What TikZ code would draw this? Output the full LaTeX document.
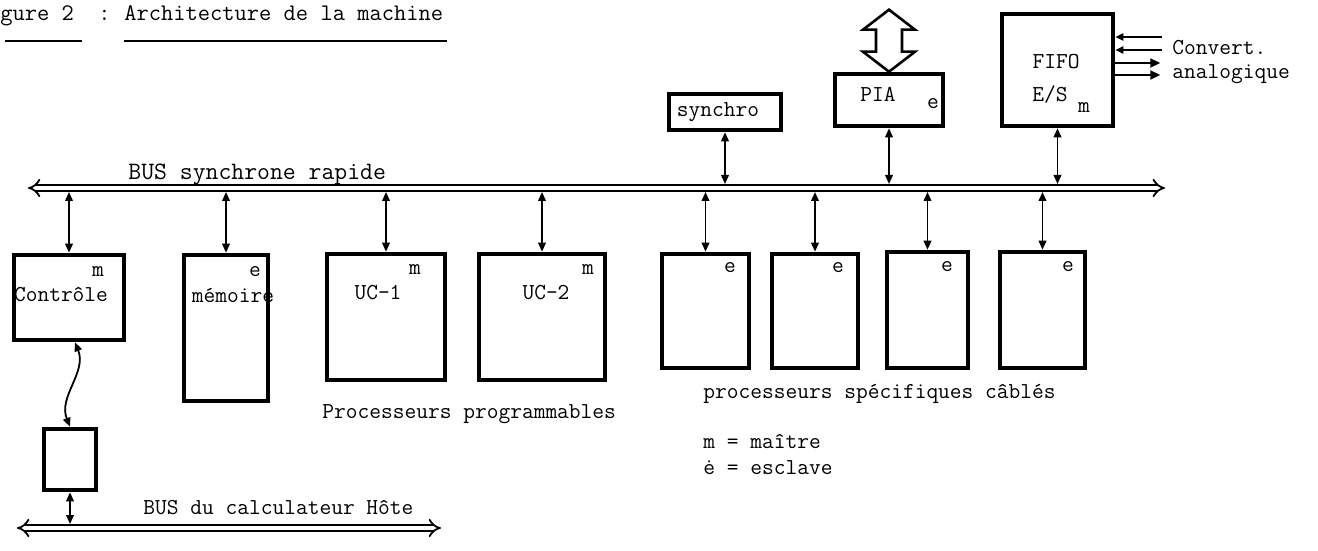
\documentclass[tikz,border=0pt]{standalone}
\usepackage{fontspec}
\usetikzlibrary{arrows.meta,calc}

\begin{document}
\begin{tikzpicture}[x=0.5pt,y=-0.5pt,
    every node/.style={font=\ttfamily\fontsize{11.4}{13}\selectfont, inner sep=0pt},
    unit/.style={draw, line width=2.3pt},
    link/.style={line width=0.9pt, {Triangle[length=4.5pt,width=3.8pt]}-{Triangle[length=4.5pt,width=3.8pt]}},
    bus/.style={double, double distance=2.2pt, line width=0.9pt, Implies-Implies}]
  \useasboundingbox (0,0) rectangle (1318,551);

  % titre
  \draw (0,21) node[anchor=base west, font=\ttfamily\fontsize{11.9}{13}\selectfont] (fig) {gure 2\ \ :};
  \draw (124,21) node[anchor=base west, font=\ttfamily\fontsize{11.9}{13}\selectfont] (titre) {Architecture de la machine};
  \draw[line width=0.8pt] ($(fig.base west)+(5,20)$) -- +(77,0);
  \draw[line width=0.8pt] ($(titre.base west)+(0,20)$) -- ($(titre.base east)+(4,20)$);

  % les deux bus
  \coordinate (busL) at (28,188);
  \coordinate (busR) at (1165,188);
  \coordinate (hostL) at (17,528);
  \coordinate (hostR) at (441,528);
  \draw[bus] (busL) -- (busR);
  \draw[bus] (hostL) -- (hostR);
  \draw (128,179) node[anchor=base west, font=\ttfamily\fontsize{12.5}{13}\selectfont] (busname) {BUS synchrone rapide};
  \draw (143,514) node[anchor=base west] (hostname) {BUS du calculateur H\^ote};

  % unites sous le bus
  \draw (69,297.5) node[unit, minimum width=55pt, minimum height=42.5pt] (ctrl) {};
  \draw (226,328) node[unit, minimum width=42pt, minimum height=73pt] (mem) {};
  \draw (386,317) node[unit, minimum width=59pt, minimum height=63pt] (uc1) {};
  \draw (542,317) node[unit, minimum width=63pt, minimum height=63pt] (uc2) {};
  \draw (705.5,311) node[unit, minimum width=43.5pt, minimum height=57pt] (sp1) {};
  \draw (815,311) node[unit, minimum width=43pt, minimum height=57pt] (sp2) {};
  \draw (927.5,310) node[unit, minimum width=40.5pt, minimum height=58pt] (sp3) {};
  \draw (1042.5,310) node[unit, minimum width=42.5pt, minimum height=58pt] (sp4) {};
  \draw (70,459.5) node[unit, minimum width=26pt, minimum height=30.5pt] (hbox) {};

  % unites au-dessus du bus
  \draw (725,112) node[unit, minimum width=56pt, minimum height=18pt] (sync) {};
  \draw (889,100) node[unit, minimum width=54pt, minimum height=26pt] (pia) {};
  \draw (1057.5,70) node[unit, minimum width=55.5pt, minimum height=56pt] (fifo) {};

  % textes des unites
  \draw (98,272) node (ctrlm) {m};
  \draw (61,295) node (ctrlt) {Contr\^ole};
  \draw (255,272) node (meme) {e};
  \draw (233,295) node (memt) {m\'emoire};
  \draw (415,270) node (uc1m) {m};
  \draw (378,293) node (uc1t) {UC-1};
  \draw (588,270) node (uc2m) {m};
  \draw (546,293) node (uc2t) {UC-2};
  \draw (730,268) node (sp1e) {e};
  \draw (838,268) node (sp2e) {e};
  \draw (947,267) node (sp3e) {e};
  \draw (1068,267) node (sp4e) {e};
  \draw (718,112) node (synct) {synchro};
  \draw (878,94) node (piat) {PIA};
  \draw (933,104) node (piae) {e};
  \draw (1056,62) node (fifot) {FIFO};
  \draw (1050,95) node (fifoes) {E/S};
  \draw (1084,108) node (fifom) {m};

  % legendes
  \draw (322,418) node[anchor=base west] (prog) {Processeurs programmables};
  \draw (703,398) node[anchor=base west] (cabl) {processeurs sp\'ecifiques c\^abl\'es};
  \draw (703,448) node[anchor=base west] (leg1) {m = ma\^itre};
  \draw (703,474) node[anchor=base west] (leg2) {ė = esclave};
  \draw (1172,55) node[anchor=base west] (conv1) {Convert.};
  \draw (1172,79) node[anchor=base west] (conv2) {analogique};

  % liaisons avec le bus rapide
  \path[link, shorten >=2pt]
    (ctrl.north) edge (ctrl.north |- busL)
    (mem.north) edge (mem.north |- busL)
    (uc1.north) edge (uc1.north |- busL)
    (uc2.north) edge (uc2.north |- busL)
    (sp1.north) edge (sp1.north |- busL)
    (sp2.north) edge (sp2.north |- busL)
    (sp3.north) edge (sp3.north |- busL)
    (sp4.north) edge (sp4.north |- busL)
    (sync.south) edge (sync.south |- busL)
    (pia.south) edge (pia.south |- busL)
    (fifo.south) edge (fifo.south |- busL)
    (hbox.south) edge (hbox.south |- hostL);

  % liaison vers le calculateur hote
  \draw[link] ($(ctrl.south)+(6,0)$) .. controls +(12,30) and +(-12,-30) .. (hbox.north);

  % acces exterieur du PIA
  \draw[line width=1.3pt, line join=miter] (pia.north) -- ++(26,-20) -- ++(-13,0) -- ++(0,-22) -- ++(13,0)
    -- ++(-26,-20) -- ++(-26,20) -- ++(13,0) -- ++(0,22) -- ++(-13,0) -- cycle;

  % convertisseurs analogiques
  \coordinate (cv1) at (1162,37);
  \coordinate (cv2) at (1162,50);
  \coordinate (cv3) at (1117,63);
  \coordinate (cv4) at (1117,75);
  \draw[line width=0.9pt, -{Triangle[length=4pt,width=3.5pt]}] (cv1) -- (cv1 -| fifo.east);
  \draw[line width=0.9pt, -{Triangle[length=4pt,width=3.5pt]}] (cv2) -- (cv2 -| fifo.east);
  \draw[line width=0.9pt, -{Triangle[length=5pt,width=4.5pt]}] (cv3 -| fifo.east) -- +(45,0);
  \draw[line width=0.9pt, -{Triangle[length=5pt,width=4.5pt]}] (cv4 -| fifo.east) -- +(45,0);
\end{tikzpicture}
\end{document}
